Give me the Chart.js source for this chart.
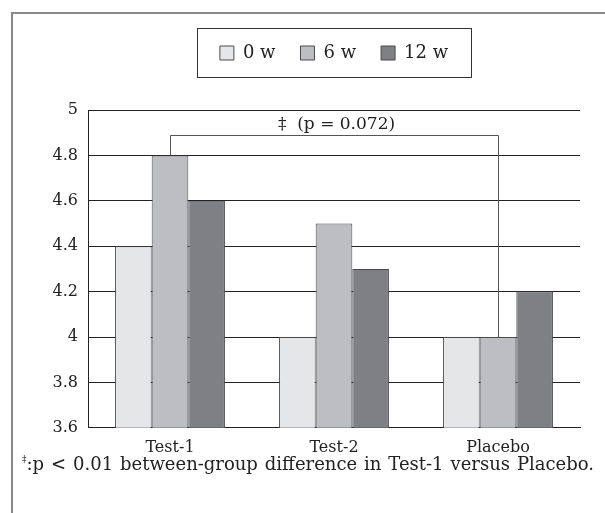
<!DOCTYPE html>
<html>
<head>
<meta charset="utf-8">
<script src="https://cdn.jsdelivr.net/npm/chart.js@4.4.1/dist/chart.umd.min.js"></script>
<style>
    body { margin: 0; background: #fff; }
    #wrap { position: relative; width: 605px; height: 513px; overflow: hidden; }
    #frame { position: absolute; left: 11px; top: 12px; width: 700px; height: 600px; border-left: 2px solid #888; border-top: 2px solid #888; }
    canvas { position: absolute; left: 0; top: 0; }
    #note { position: absolute; left: 22px; top: 453px; font-family: "DejaVu Serif", serif; font-size: 18px; word-spacing: 1.2px; color: #222; white-space: nowrap; }
    #note sup { font-size: 9px; vertical-align: 8px; }
</style>
</head>
<body>
<div id="wrap">
    <div id="frame"></div>
    <canvas id="barChart" width="605" height="513"></canvas>
    <div id="note"><sup>‡</sup>:p &lt; 0.01 between-group difference in Test-1 versus Placebo.</div>
</div>
<script>
const categories = ['Test-1', 'Test-2', 'Placebo'];
const seriesNames = ['0 w', '6 w', '12 w'];
const week0 = [4.4, 4.0, 4.0];
const week6 = [4.8, 4.5, 4.0];
const week12 = [4.6, 4.3, 4.2];
const seriesColors = ['#e5e6e8', '#bdbec2', '#7f8084'];
const bracketLevel = 4.89;
const bracketText = '‡  (p = 0.072)';

const fontFamily = '"DejaVu Serif", serif';

const annotationPlugin = {
    id: 'bracketAndLegendBox',
    afterDraw(chart) {
        const ctx = chart.ctx;
        const legend = chart.legend;
        // box round the legend
        ctx.save();
        ctx.strokeStyle = '#333';
        ctx.lineWidth = 1;
        const boxes = legend.legendHitBoxes;
        const last = boxes[boxes.length - 1];
        const left = Math.round(boxes[0].left - 23);
        const right = Math.round(last.left + last.width + 23);
        const mid = boxes[0].top + boxes[0].height / 2;
        ctx.strokeRect(left + 0.5, Math.round(mid - 25) + 0.5, right - left, 49);

        // bracket between Test-1 and Placebo
        const y = chart.scales.y;
        const meta = chart.getDatasetMeta(1);
        const x1 = Math.round(meta.data[0].x) + 0.5;
        const x2 = Math.round(meta.data[2].x) + 0.5;
        const top = Math.round(y.getPixelForValue(bracketLevel)) + 0.5;
        ctx.strokeStyle = '#555';
        ctx.beginPath();
        ctx.moveTo(x1, y.getPixelForValue(week6[0]));
        ctx.lineTo(x1, top);
        ctx.lineTo(x2, top);
        ctx.lineTo(x2, y.getPixelForValue(week6[2]));
        ctx.stroke();
        ctx.fillStyle = '#222';
        ctx.font = '17px ' + fontFamily;
        ctx.textAlign = 'center';
        ctx.textBaseline = 'bottom';
        ctx.fillText(bracketText, (x1 + x2) / 2 + 2, top - 2);
        ctx.restore();
    }
};

const ctx = document.getElementById('barChart').getContext('2d');
const barChart = new Chart(ctx, {
    type: 'bar',
    data: {
        labels: categories,
        datasets: [week0, week6, week12].map((values, i) => ({
            label: seriesNames[i],
            data: values,
            backgroundColor: seriesColors[i],
            borderColor: '#4a4a4a',
            borderWidth: 1,
            categoryPercentage: 0.67,
            barPercentage: 1
        }))
    },
    options: {
        responsive: false,
        animation: false,
        layout: { padding: { top: 19, left: 12, right: 25, bottom: 46 } },
        scales: {
            x: {
                grid: { display: false, drawTicks: false },
                border: { color: '#222' },
                ticks: { color: '#222', padding: 10, font: { family: fontFamily, size: 16 } }
            },
            y: {
                min: 3.6,
                max: 5,
                grid: { color: '#222', drawTicks: false },
                border: { color: '#222' },
                afterFit(scale) { scale.width = 76; },
                ticks: {
                    stepSize: 0.2,
                    padding: 10,
                    color: '#222',
                    font: { family: fontFamily, size: 16 },
                    callback: (v) => String(Number(v.toFixed(1)))
                }
            }
        },
        plugins: {
            legend: {
                position: 'top',
                fullSize: false,
                labels: {
                    boxWidth: 14,
                    boxHeight: 14,
                    padding: 25,
                    color: '#222',
                    font: { family: fontFamily, size: 18 }
                }
            },
            tooltip: { enabled: false }
        }
    },
    plugins: [annotationPlugin, {
        id: 'legendGap',
        afterInit(chart) {
            const legend = chart.legend;
            const origFit = legend.fit.bind(legend);
            legend.fit = function () {
                origFit();
                this.height += 38;
            };
        }
    }]
});
barChart.update();
</script>
</body>
</html>
